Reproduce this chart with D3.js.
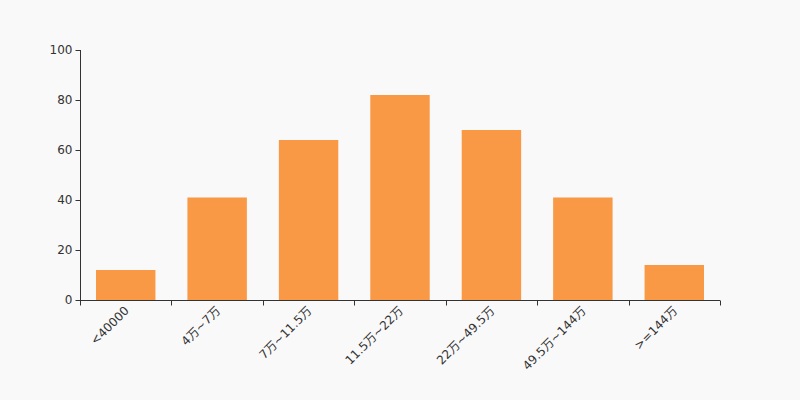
<!DOCTYPE html>
<html><head><meta charset="utf-8">
<script src="https://cdn.jsdelivr.net/npm/d3@7"></script>
<style>html,body{margin:0;padding:0;background:#f9f9f9;}svg{display:block;}</style>
</head><body>
<svg id="c" width="800" height="400"></svg>
<script>
const categories = ["<40000","4万~7万","7万~11.5万","11.5万~22万","22万~49.5万","49.5万~144万",">=144万"];
const values = [12,41,64,82,68,41,14];
const yTicks = [0,20,40,60,80,100];

const svg = d3.select("#c");
const W=800,H=400, m={l:80,r:80,t:50,b:100};
svg.append("rect").attr("width",W).attr("height",H).attr("fill","#f9f9f9");
const x = d3.scaleBand().domain(categories).range([m.l, W-m.r]).padding(0);
const y = d3.scaleLinear().domain([0,100]).range([H-m.b, m.t]);
const font = "'DejaVu Sans', 'Noto Sans CJK SC', sans-serif";

const bw = x.bandwidth()*0.65;
svg.append("g").selectAll("rect").data(values).join("rect")
  .attr("x",(d,i)=>x(categories[i])+(x.bandwidth()-bw)/2)
  .attr("y",d=>y(d)).attr("width",bw).attr("height",d=>y(0)-y(d))
  .attr("fill","#f99845");

// y axis
const ya = svg.append("g").attr("transform",`translate(${m.l+0.5},0)`)
  .call(d3.axisLeft(y).tickValues(yTicks).tickSize(5).tickPadding(3));
// x axis
const xa = svg.append("g").attr("transform",`translate(0,${y(0)+0.5})`);
xa.append("line").attr("x1",m.l).attr("x2",W-m.r).attr("stroke","#333");
const bounds = categories.map(c=>x(c)).concat([W-m.r]);
xa.selectAll("line.t").data(bounds).join("line").attr("class","t")
  .attr("x1",d=>Math.round(d)+0.5).attr("x2",d=>Math.round(d)+0.5).attr("y1",0).attr("y2",5).attr("stroke","#333");
xa.selectAll("text").data(categories).join("text")
  .attr("transform",c=>`translate(${x(c)+x.bandwidth()/2+1},8) rotate(-45)`)
  .attr("text-anchor","end").attr("dy","0.35em")
  .attr("fill","#333").style("font-family",font).style("font-size","12px").text(c=>c);

ya.select(".domain").attr("stroke","#333").attr("d",`M0,${y(100)}V${y(0)}`);
ya.selectAll(".tick line").attr("stroke","#333");
ya.selectAll(".tick text").attr("fill","#333").style("font-family",font).style("font-size","12px");
</script>
</body></html>
